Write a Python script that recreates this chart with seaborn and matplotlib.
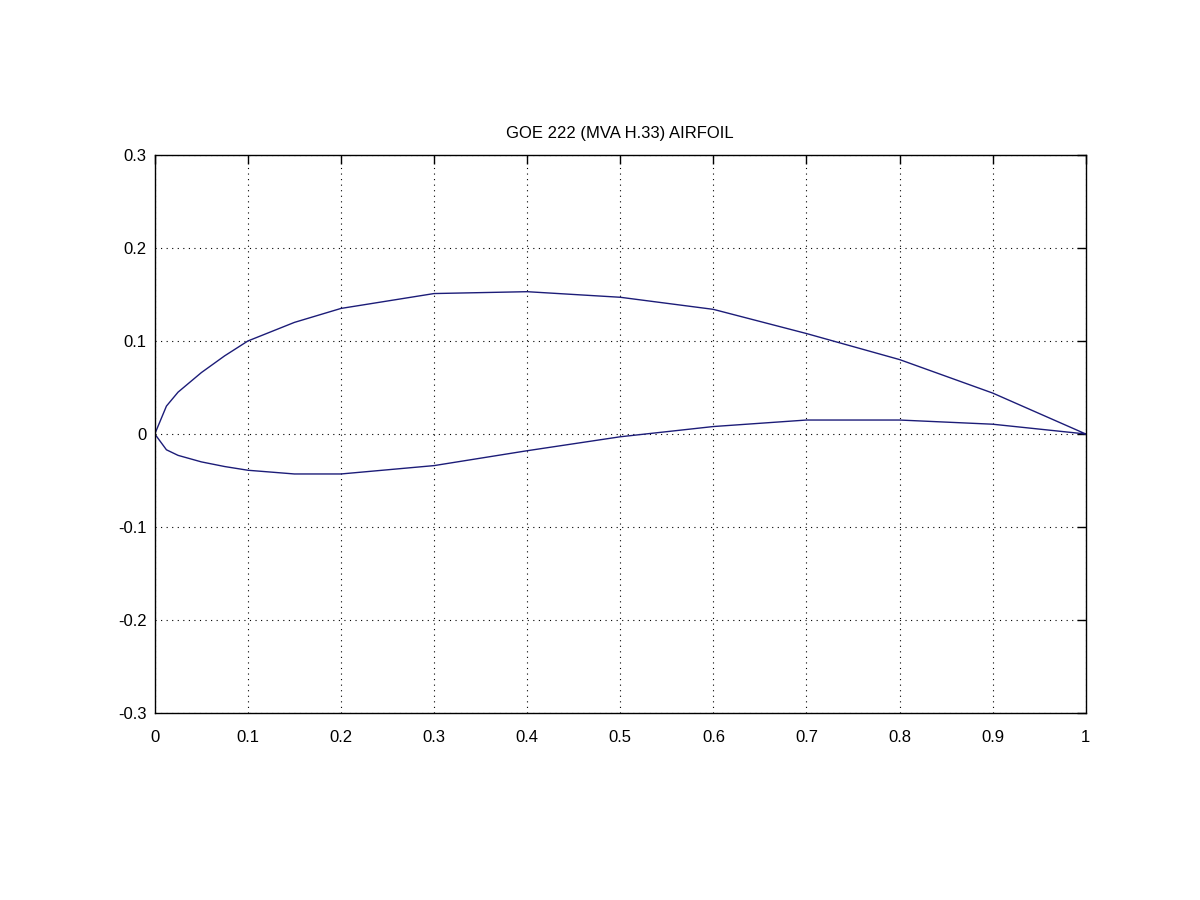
import numpy as np
import pandas as pd
import matplotlib
matplotlib.use('Agg')
import matplotlib.pyplot as plt
import seaborn as sns

# GOE 222 coordinates
x_upper = [1.0, 0.9, 0.8, 0.7, 0.6, 0.5, 0.4, 0.3, 0.2, 0.15, 0.1, 0.075, 0.05, 0.025, 0.0125, 0.0]
y_upper = [0.0, 0.044, 0.080, 0.108, 0.134, 0.147, 0.153, 0.151, 0.135, 0.120, 0.100, 0.084, 0.066, 0.045, 0.030, 0.0]
x_lower = [0.0125, 0.025, 0.05, 0.075, 0.1, 0.15, 0.2, 0.3, 0.4, 0.5, 0.6, 0.7, 0.8, 0.9, 1.0]
y_lower = [-0.017, -0.023, -0.030, -0.035, -0.039, -0.043, -0.043, -0.034, -0.018, -0.003, 0.008, 0.015, 0.015, 0.0105, 0.0]

x_ticks = [0, 0.1, 0.2, 0.3, 0.4, 0.5, 0.6, 0.7, 0.8, 0.9, 1]
x_labels = ['0', '0.1', '0.2', '0.3', '0.4', '0.5', '0.6', '0.7', '0.8', '0.9', '1']
y_ticks = [-0.3, -0.2, -0.1, 0, 0.1, 0.2, 0.3]
y_labels = ['-0.3', '-0.2', '-0.1', '0', '0.1', '0.2', '0.3']

df = pd.DataFrame({'x': x_upper + x_lower, 'y': y_upper + y_lower})

sns.set_style('white')
plt.rcParams['font.family'] = ['Liberation Sans', 'DejaVu Sans']

fig = plt.figure(figsize=(12, 9), dpi=100)
ax = fig.add_axes([0.129, 0.2078, 0.7758, 0.62])
sns.lineplot(data=df, x='x', y='y', sort=False, estimator=None, color='#1c1c78', linewidth=1.0, ax=ax)

ax.set_xlim(0, 1)
ax.set_ylim(-0.3, 0.3)
ax.set_xticks(x_ticks)
ax.set_xticklabels(x_labels)
ax.set_yticks(y_ticks)
ax.set_yticklabels(y_labels)
ax.set_xlabel('')
ax.set_ylabel('')
ax.grid(True, color='black', linestyle=(0, (1, 4)), linewidth=0.8)
ax.tick_params(direction='in', length=6.5, width=1, top=True, right=True, labelsize=12, colors='black')
ax.tick_params(axis='x', pad=12)
ax.tick_params(axis='y', pad=6)
for s in ax.spines.values():
    s.set_color('black')
    s.set_linewidth(1)
ax.set_title('GOE 222 (MVA H.33) AIRFOIL', fontsize=12, pad=12, color='black')

fig.savefig('out.png', dpi=100)
